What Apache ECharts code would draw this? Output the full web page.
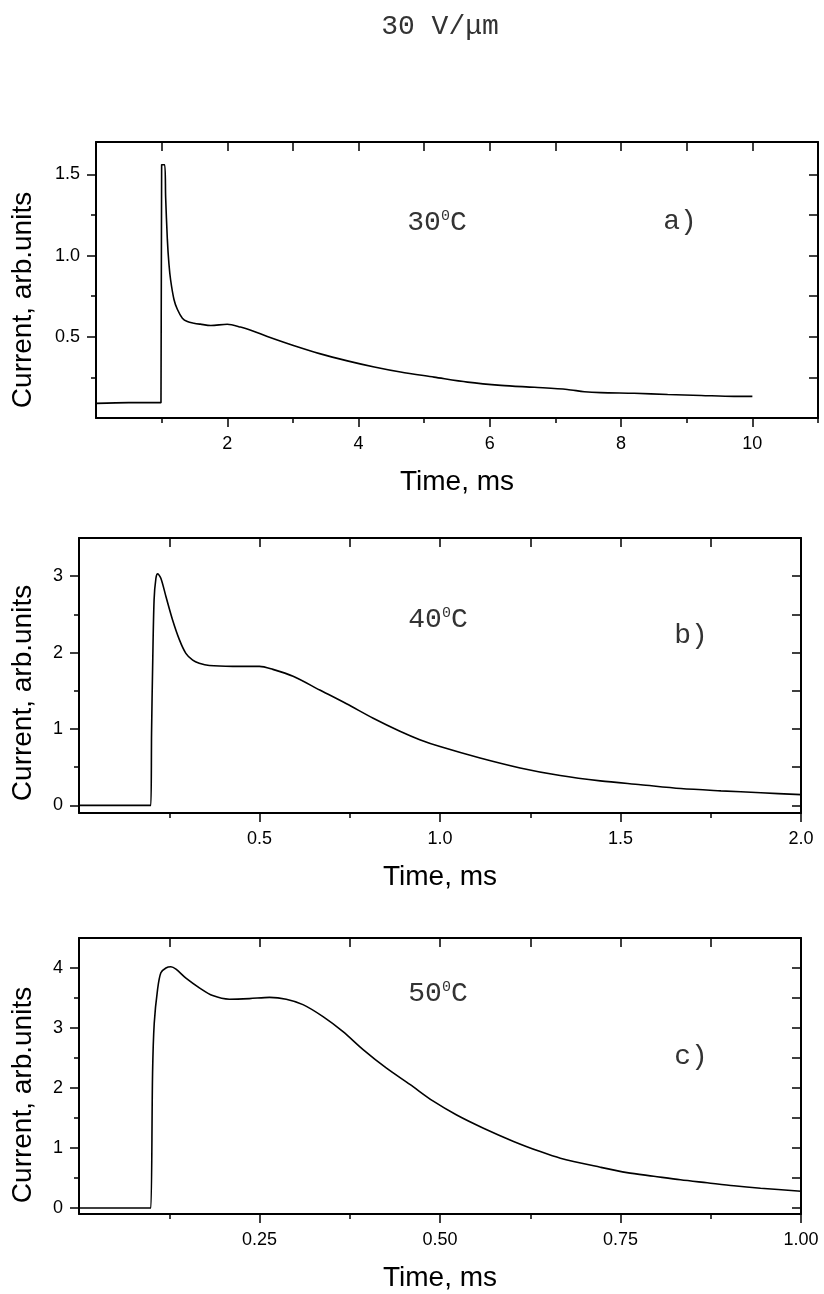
<!DOCTYPE html>
<html>
<head>
<meta charset="utf-8">
<script src="https://cdn.jsdelivr.net/npm/echarts@6/dist/echarts.min.js"></script>
<style>
html, body { margin: 0; padding: 0; background: #fff; }
#main { width: 824px; height: 1294px; }
</style>
</head>
<body>
<div id="main"></div>
<script>
// panel a) 30 C, time in ms
var timeA = [0, 0.5, 0.99, 1.0, 1.045, 1.061, 1.087, 1.111, 1.137, 1.188, 1.239, 1.316, 1.392, 1.492, 1.59, 1.75, 2.0, 2.2, 2.41, 2.61, 3.02, 3.42, 3.83, 4.24, 4.64, 5.15, 5.66, 6.17, 6.68, 7.18, 7.44, 7.69, 8.2, 8.71, 9.22, 9.72, 10.0];
var currentA = [0.09, 0.095, 0.095, 1.56, 1.56, 1.36, 1.10, 0.95, 0.85, 0.73, 0.67, 0.615, 0.594, 0.584, 0.578, 0.570, 0.577, 0.56, 0.533, 0.502, 0.445, 0.395, 0.352, 0.314, 0.283, 0.252, 0.221, 0.201, 0.189, 0.176, 0.162, 0.156, 0.152, 0.145, 0.139, 0.133, 0.133];

// panel b) 40 C
var timeB = [0, 0.1, 0.195, 0.199, 0.201, 0.204, 0.208, 0.213, 0.218, 0.227, 0.241, 0.259, 0.278, 0.296, 0.315, 0.333, 0.361, 0.426, 0.5, 0.537, 0.593, 0.667, 0.741, 0.815, 0.889, 0.944, 1.0, 1.111, 1.222, 1.333, 1.444, 1.556, 1.667, 1.778, 1.889, 2.0];
var currentB = [0, 0, 0, 0, 0.95, 1.82, 2.69, 2.97, 3.03, 2.97, 2.73, 2.43, 2.17, 1.99, 1.90, 1.86, 1.83, 1.82, 1.82, 1.78, 1.69, 1.51, 1.33, 1.14, 0.97, 0.86, 0.77, 0.62, 0.49, 0.39, 0.32, 0.27, 0.22, 0.19, 0.165, 0.14];

// panel c) 50 C
var timeC = [0, 0.05, 0.097, 0.0995, 0.1019, 0.1042, 0.1088, 0.1134, 0.1204, 0.1273, 0.1343, 0.1481, 0.1667, 0.1852, 0.2083, 0.2361, 0.2639, 0.287, 0.3102, 0.338, 0.3657, 0.3935, 0.4259, 0.4583, 0.4907, 0.5231, 0.5602, 0.6019, 0.6389, 0.6667, 0.722, 0.759, 0.796, 0.833, 0.870, 0.907, 0.944, 1.0];
var currentC = [0, 0, 0, 0, 2.25, 3.08, 3.64, 3.92, 4.0, 4.02, 3.98, 3.83, 3.67, 3.54, 3.48, 3.49, 3.51, 3.48, 3.39, 3.19, 2.94, 2.64, 2.33, 2.06, 1.78, 1.55, 1.33, 1.11, 0.94, 0.83, 0.68, 0.59, 0.53, 0.47, 0.42, 0.37, 0.33, 0.28];

// ticks
var xMajorA = [2, 4, 6, 8, 10], xMinorA = [1, 3, 5, 7, 9, 11];
var yMajorA = [0.5, 1.0, 1.5], yMinorA = [0.25, 0.75, 1.25];
var xMajorB = [0.5, 1.0, 1.5, 2.0], xMinorB = [0.25, 0.75, 1.25, 1.75];
var yMajorB = [0, 1, 2, 3], yMinorB = [0.5, 1.5, 2.5];
var xMajorC = [0.25, 0.5, 0.75, 1.0], xMinorC = [0.125, 0.375, 0.625, 0.875];
var yMajorC = [0, 1, 2, 3, 4], yMinorC = [0.5, 1.5, 2.5, 3.5];

var temps = ['30', '40', '50'];
var tags = ['a)', 'b)', 'c)'];
var fieldTitle = '30 V/μm';
var xTitle = 'Time, ms';
var yTitle = 'Current, arb.units';

var SANS = 'Liberation Sans, Arial, sans-serif';
var MONO = 'Liberation Mono, Courier New, monospace';

var panels = [
    {grid: {left: 96, top: 142, width: 722, height: 276}, xr: [0, 11], yr: [0, 1.7],
     xMajor: xMajorA, xMinor: xMinorA, yMajor: yMajorA, yMinor: yMinorA, xDec: 0, yDec: 1,
     t: timeA, v: currentA, yTitleY: 300, tempPos: [437, 223], tagPos: [680, 222]},
    {grid: {left: 79, top: 538, width: 722, height: 275}, xr: [0, 2], yr: [-0.1, 3.5],
     xMajor: xMajorB, xMinor: xMinorB, yMajor: yMajorB, yMinor: yMinorB, xDec: 1, yDec: 0,
     t: timeB, v: currentB, yTitleY: 693, tempPos: [438, 620], tagPos: [691, 636]},
    {grid: {left: 79, top: 938, width: 722, height: 276}, xr: [0, 1], yr: [-0.1, 4.5],
     xMajor: xMajorC, xMinor: xMinorC, yMajor: yMajorC, yMinor: yMinorC, xDec: 2, yDec: 0,
     t: timeC, v: currentC, yTitleY: 1095, tempPos: [438, 994], tagPos: [691, 1057]}
];

function fmt(dec) {
    return function (val) { return Number(val).toFixed(dec); };
}

var lineSt = {color: '#000', width: 2};
var tickSt = {color: '#000', width: 1.5};

var grids = [], xAxes = [], yAxes = [], series = [];
var graphics = [{
    type: 'text', x: 440, y: 27,
    style: {text: fieldTitle, fontSize: 28, fontFamily: MONO, fill: '#333', textAlign: 'center', textVerticalAlign: 'middle'}
}];

panels.forEach(function (p, i) {
    var g = 2 * i;
    grids.push(Object.assign({}, p.grid));
    grids.push(Object.assign({}, p.grid)); // same box, only carries the short minor ticks

    // bottom
    xAxes.push({
        type: 'value', gridIndex: g, position: 'bottom', min: p.xr[0], max: p.xr[1],
        axisLine: {show: true, onZero: false, lineStyle: lineSt},
        axisTick: {show: true, customValues: p.xMajor, length: 9, lineStyle: tickSt},
        axisLabel: {customValues: p.xMajor, formatter: fmt(p.xDec), fontSize: 18, fontFamily: SANS, color: '#000', margin: 17},
        splitLine: {show: false},
        name: xTitle, nameLocation: 'middle', nameGap: 50,
        nameTextStyle: {fontSize: 28, fontFamily: SANS, color: '#000'}
    });
    // top mirror
    xAxes.push({
        type: 'value', gridIndex: g, position: 'top', min: p.xr[0], max: p.xr[1],
        axisLine: {show: true, onZero: false, lineStyle: lineSt},
        axisTick: {show: true, inside: true, customValues: p.xMajor.concat(p.xMinor), length: 9, lineStyle: tickSt},
        axisLabel: {show: false}, splitLine: {show: false}
    });
    // bottom minor
    xAxes.push({
        type: 'value', gridIndex: g + 1, position: 'bottom', min: p.xr[0], max: p.xr[1],
        axisLine: {show: false, onZero: false},
        axisTick: {show: true, customValues: p.xMinor, length: 5, lineStyle: tickSt},
        axisLabel: {show: false}, splitLine: {show: false}
    });

    // left
    yAxes.push({
        type: 'value', gridIndex: g, position: 'left', min: p.yr[0], max: p.yr[1],
        axisLine: {show: true, onZero: false, lineStyle: lineSt},
        axisTick: {show: true, customValues: p.yMajor, length: 9, lineStyle: tickSt},
        axisLabel: {customValues: p.yMajor, formatter: fmt(p.yDec), fontSize: 18, fontFamily: SANS, color: '#000', margin: 16},
        splitLine: {show: false}
    });
    // right mirror
    yAxes.push({
        type: 'value', gridIndex: g, position: 'right', min: p.yr[0], max: p.yr[1],
        axisLine: {show: true, onZero: false, lineStyle: lineSt},
        axisTick: {show: true, inside: true, customValues: p.yMajor.concat(p.yMinor), length: 9, lineStyle: tickSt},
        axisLabel: {show: false}, splitLine: {show: false}
    });
    // left minor
    yAxes.push({
        type: 'value', gridIndex: g + 1, position: 'left', min: p.yr[0], max: p.yr[1],
        axisLine: {show: false, onZero: false},
        axisTick: {show: true, customValues: p.yMinor, length: 5, lineStyle: tickSt},
        axisLabel: {show: false}, splitLine: {show: false}
    });

    var pts = p.t.map(function (t, k) { return [t, p.v[k]]; });
    series.push({
        type: 'line', xAxisIndex: 3 * i, yAxisIndex: 3 * i, data: pts,
        showSymbol: false, smooth: 0.3,
        lineStyle: {color: '#000', width: 1.6}, z: 3
    });

    graphics.push({
        type: 'text', x: 23, y: p.yTitleY, rotation: Math.PI / 2,
        style: {text: yTitle, fontSize: 28, fontFamily: SANS, fill: '#000', textAlign: 'center', textVerticalAlign: 'middle'}
    });
    graphics.push({
        type: 'text', x: p.tempPos[0], y: p.tempPos[1],
        style: {
            text: '{n|' + temps[i] + '}{s|0}{n|C}', textAlign: 'center', textVerticalAlign: 'middle',
            rich: {
                n: {fontSize: 28, fontFamily: MONO, fill: '#333'},
                s: {fontSize: 15, fontFamily: MONO, fill: '#333', verticalAlign: 'top'}
            }
        }
    });
    graphics.push({
        type: 'text', x: p.tagPos[0], y: p.tagPos[1],
        style: {text: tags[i], fontSize: 28, fontFamily: MONO, fill: '#333', textAlign: 'center', textVerticalAlign: 'middle'}
    });
});

var myChart = echarts.init(document.getElementById('main'));
var option = {
    backgroundColor: '#fff',
    animation: false,
    grid: grids,
    xAxis: xAxes,
    yAxis: yAxes,
    series: series,
    graphic: graphics
};
myChart.setOption(option);
</script>
</body>
</html>
